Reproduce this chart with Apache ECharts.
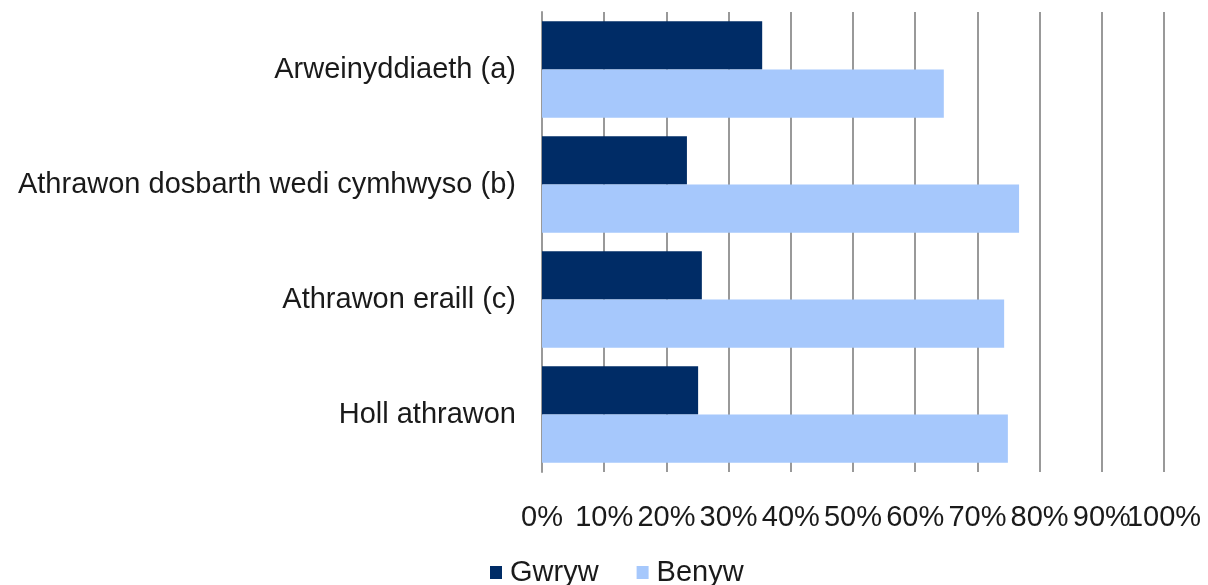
<!DOCTYPE html>
<html><head><meta charset="utf-8">
<script src="https://cdn.jsdelivr.net/npm/echarts@6/dist/echarts.min.js"></script>
<style>html,body{margin:0;padding:0;background:#fff}#c{width:1208px;height:585px}</style>
</head><body><div id="c"></div>
<script>
const categories = ["Arweinyddiaeth (a)", "Athrawon dosbarth wedi cymhwyso (b)", "Athrawon eraill (c)", "Holl athrawon"];
const gwryw = [35.4, 23.3, 25.7, 25.1];
const benyw = [64.6, 76.7, 74.3, 74.9];
const seriesNames = ["Gwryw", "Benyw"];
const xTicks = [0, 10, 20, 30, 40, 50, 60, 70, 80, 90, 100];
const xMax = xTicks[xTicks.length - 1];

const chart = echarts.init(document.getElementById('c'));
const font = 'Liberation Sans, Arial, sans-serif';
const labelBase = {fontFamily: font, fontSize: 29, color: '#1a1a1a', margin: 31, hideOverlap: false};
chart.setOption({
  animation: false,
  grid: {left: 542, right: 44, top: 12, bottom: 113},
  legend: {
    top: 558, left: 490, itemWidth: 12, itemHeight: 13, itemGap: 38,
    icon: 'rect', padding: 0,
    textStyle: {fontFamily: font, fontSize: 29, color: '#1a1a1a', padding: [0, 0, 0, 3]},
    data: seriesNames
  },
  xAxis: [{
    type: 'value', min: 0, max: xMax, interval: 10,
    axisLine: {show: false}, axisTick: {show: false},
    splitLine: {show: true, lineStyle: {color: '#999', width: 2}},
    axisLabel: Object.assign({}, labelBase, {formatter: v => (xTicks.includes(v) && v !== xMax) ? v + '%' : '', showMaxLabel: false})
  }, {
    type: 'value', min: 0, max: xMax, interval: 10, position: 'bottom',
    axisLine: {show: false}, axisTick: {show: false}, splitLine: {show: false},
    axisLabel: Object.assign({}, labelBase, {formatter: v => v === xMax ? v + '%' : '', showMinLabel: false, showMaxLabel: true})
  }],
  yAxis: {
    type: 'category', data: categories, inverse: true,
    axisLine: {show: true, lineStyle: {color: '#999', width: 2}},
    axisTick: {show: false},
    axisLabel: {fontFamily: font, fontSize: 29, color: '#1a1a1a', margin: 26}
  },
  series: [
    {name: seriesNames[0], type: 'bar', data: gwryw, itemStyle: {color: '#002C66'}, barGap: '0%', barCategoryGap: '16%'},
    {name: seriesNames[1], type: 'bar', data: benyw, itemStyle: {color: '#A6C8FC'}, barGap: '0%', barCategoryGap: '16%'}
  ]
});
</script></body></html>
